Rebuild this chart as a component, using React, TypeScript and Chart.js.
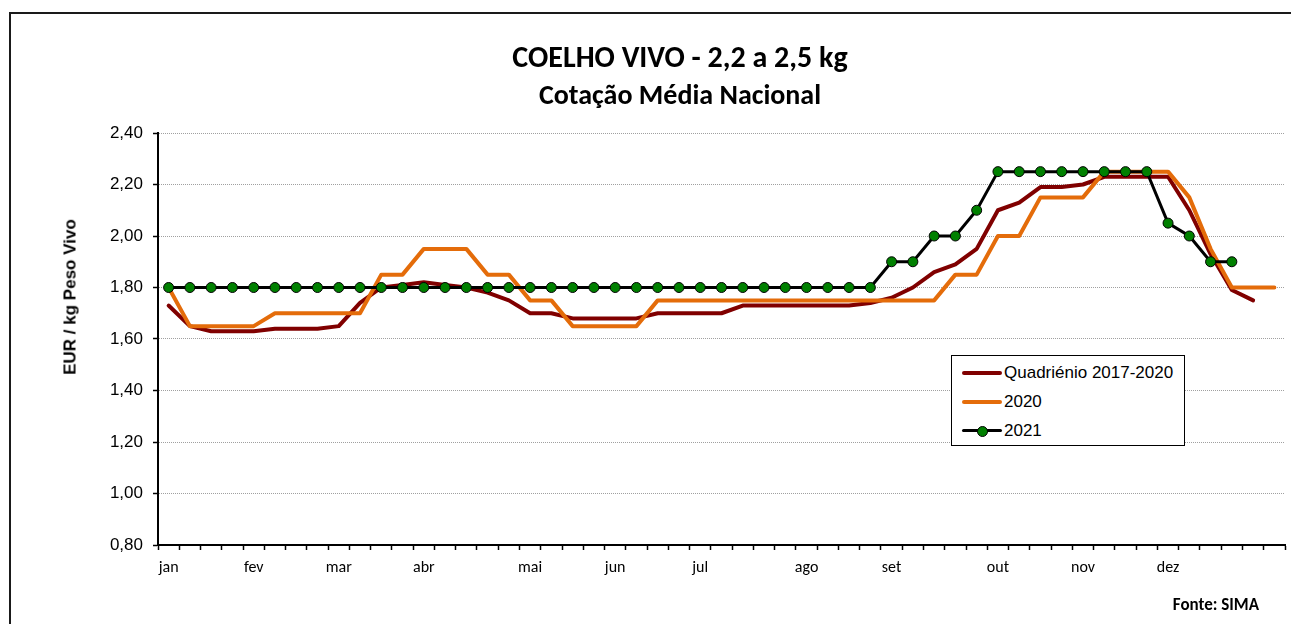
import React, { useEffect, useRef } from "react";
import { Chart, registerables } from "chart.js";

Chart.register(...registerables);

const monthNames = ["jan", "fev", "mar", "abr", "mai", "jun", "jul", "ago", "set", "out", "nov", "dez"];
const monthWeeks = [0, 4, 8, 12, 17, 21, 25, 30, 34, 39, 43, 47];
const weekCount = 53;

const quadrienio = [
  1.73, 1.65, 1.63, 1.63, 1.63, 1.64, 1.64, 1.64, 1.65, 1.74,
  1.80, 1.81, 1.82, 1.81, 1.80, 1.78, 1.75, 1.70, 1.70, 1.68,
  1.68, 1.68, 1.68, 1.70, 1.70, 1.70, 1.70, 1.73, 1.73, 1.73,
  1.73, 1.73, 1.73, 1.74, 1.76, 1.80, 1.86, 1.89, 1.95, 2.10,
  2.13, 2.19, 2.19, 2.20, 2.23, 2.23, 2.23, 2.23, 2.10, 1.93,
  1.79, 1.75, null,
];

const ano2020 = [
  1.80, 1.65, 1.65, 1.65, 1.65, 1.70, 1.70, 1.70, 1.70, 1.70,
  1.85, 1.85, 1.95, 1.95, 1.95, 1.85, 1.85, 1.75, 1.75, 1.65,
  1.65, 1.65, 1.65, 1.75, 1.75, 1.75, 1.75, 1.75, 1.75, 1.75,
  1.75, 1.75, 1.75, 1.75, 1.75, 1.75, 1.75, 1.85, 1.85, 2.00,
  2.00, 2.15, 2.15, 2.15, 2.25, 2.25, 2.25, 2.25, 2.15, 1.95,
  1.80, 1.80, 1.80,
];

const ano2021 = [
  1.80, 1.80, 1.80, 1.80, 1.80, 1.80, 1.80, 1.80, 1.80, 1.80,
  1.80, 1.80, 1.80, 1.80, 1.80, 1.80, 1.80, 1.80, 1.80, 1.80,
  1.80, 1.80, 1.80, 1.80, 1.80, 1.80, 1.80, 1.80, 1.80, 1.80,
  1.80, 1.80, 1.80, 1.80, 1.90, 1.90, 2.00, 2.00, 2.10, 2.25,
  2.25, 2.25, 2.25, 2.25, 2.25, 2.25, 2.25, 2.05, 2.00, 1.90,
  1.90, null, null,
];

const seriesNames = ["Quadriénio 2017-2020", "2020", "2021"];
const seriesColors = ["#800000", "#E46C0A", "#000000"];
const markerColor = "#008000";

const yMin = 0.8;
const yMax = 2.4;
const yStep = 0.2;

const titleText = "COELHO VIVO - 2,2 a 2,5 kg";
const subtitleText = "Cotação Média Nacional";
const yAxisTitle = "EUR / kg Peso Vivo";
const sourceText = "Fonte: SIMA";

const labels: string[] = Array.from({ length: weekCount }, (_, i) => {
  const k = monthWeeks.indexOf(i);
  return k >= 0 ? monthNames[k] : "";
});

const W = 1291;
const H = 624;
const ARIAL = "'Liberation Sans', Arial, sans-serif";
const CAL = "Carlito, Lato, sans-serif";

export default function App() {
  const ref = useRef<HTMLCanvasElement | null>(null);

  useEffect(() => {
    if (!ref.current) return;
    const chart = new Chart(ref.current, {
      type: "line",
      data: {
        labels,
        datasets: [
          {
            label: seriesNames[0],
            data: quadrienio,
            borderColor: seriesColors[0],
            backgroundColor: seriesColors[0],
            borderWidth: 4,
            pointRadius: 0,
            tension: 0,
            borderJoinStyle: "round",
            borderCapStyle: "round",
            order: 3,
          },
          {
            label: seriesNames[1],
            data: ano2020,
            borderColor: seriesColors[1],
            backgroundColor: seriesColors[1],
            borderWidth: 4,
            pointRadius: 0,
            tension: 0,
            borderJoinStyle: "round",
            borderCapStyle: "round",
            order: 2,
          },
          {
            label: seriesNames[2],
            data: ano2021,
            borderColor: seriesColors[2],
            backgroundColor: markerColor,
            borderWidth: 3,
            pointRadius: 5,
            pointBackgroundColor: markerColor,
            pointBorderColor: "#000000",
            pointBorderWidth: 1,
            tension: 0,
            order: 1,
          },
        ],
      },
      options: {
        responsive: false,
        animation: false,
        events: [],
        layout: { padding: { top: 133, right: 6, bottom: 0, left: 0 } },
        plugins: {
          legend: { display: false },
          title: { display: false },
          tooltip: { enabled: false },
        },
        scales: {
          x: {
            type: "category",
            offset: true,
            afterFit: (s: any) => {
              s.height = 79;
            },
            grid: {
              offset: true,
              drawOnChartArea: false,
              drawTicks: true,
              tickLength: 5,
              tickColor: "#000000",
              tickWidth: 1.5,
              tickBorderDash: [],
            },
            border: { display: true, color: "#000000", width: 2 },
            ticks: {
              autoSkip: false,
              maxRotation: 0,
              minRotation: 0,
              padding: 8,
              color: "#000000",
              font: { family: CAL, size: 16 },
            },
          },
          y: {
            min: yMin,
            max: yMax,
            afterFit: (s: any) => {
              s.width = 158;
            },
            grid: {
              color: "#a0a0a0",
              lineWidth: 1,
              drawTicks: true,
              tickLength: 5,
              tickColor: "#000000",
              tickWidth: 1.5,
              tickBorderDash: [],
            },
            border: { display: true, color: "#000000", width: 2, dash: [1, 1] },
            ticks: {
              stepSize: yStep,
              padding: 10,
              color: "#000000",
              font: { family: ARIAL, size: 17 },
              callback: (v: any) => Number(v).toFixed(2).replace(".", ","),
            },
          },
        },
      },
    } as any);
    return () => chart.destroy();
  }, []);

  const legendRows = [0, 1, 2];

  return (
    <div style={{ position: "fixed", left: 0, top: 0, width: W, height: H, overflow: "hidden", background: "#fff" }}>
      <div
        style={{
          position: "absolute",
          left: 9,
          top: 12,
          width: 1400,
          height: 800,
          border: "2px solid #1a1a1a",
          boxSizing: "border-box",
        }}
      />
      <canvas ref={ref} width={W} height={H} style={{ position: "absolute", left: 0, top: 0, width: W, height: H }} />
      <div
        style={{
          position: "absolute",
          left: 680,
          top: 57,
          transform: "translate(-50%, -50%)",
          whiteSpace: "nowrap",
          font: `bold 30px ${CAL}`,
          lineHeight: "1",
          color: "#000",
        }}
      >
        {titleText}
      </div>
      <div
        style={{
          position: "absolute",
          left: 680,
          top: 95,
          transform: "translate(-50%, -50%)",
          whiteSpace: "nowrap",
          font: `bold 28px ${CAL}`,
          lineHeight: "1",
          color: "#000",
        }}
      >
        {subtitleText}
      </div>
      <div
        style={{
          position: "absolute",
          left: 70,
          top: 297,
          transform: "translate(-50%, -50%) rotate(-90deg)",
          whiteSpace: "nowrap",
          font: `bold 17px ${ARIAL}`,
          lineHeight: "1",
          color: "#000",
        }}
      >
        {yAxisTitle}
      </div>
      <div
        style={{
          position: "absolute",
          left: 951,
          top: 355,
          width: 234,
          height: 91,
          border: "1px solid #000",
          background: "#fff",
          boxSizing: "border-box",
        }}
      >
        {legendRows.map((i) => (
          <div key={i} style={{ position: "absolute", left: 0, top: 17 + i * 29, width: 232, height: 0 }}>
            <div
              style={{
                position: "absolute",
                left: 10,
                top: -2,
                width: 40,
                height: i === 2 ? 3 : 4,
                borderRadius: 2,
                background: seriesColors[i],
              }}
            />
            {i === 2 && (
              <div
                style={{
                  position: "absolute",
                  left: 25,
                  top: -5,
                  width: 9,
                  height: 9,
                  borderRadius: "50%",
                  background: markerColor,
                  border: "1px solid #000",
                }}
              />
            )}
            <div
              style={{
                position: "absolute",
                left: 52,
                top: -10,
                whiteSpace: "nowrap",
                font: `17px ${ARIAL}`,
                lineHeight: "20px",
                color: "#000",
              }}
            >
              {seriesNames[i]}
            </div>
          </div>
        ))}
      </div>
      <div
        style={{
          position: "absolute",
          left: 1259,
          top: 604,
          transform: "translate(-100%, -50%)",
          whiteSpace: "nowrap",
          font: `bold 17px ${CAL}`,
          lineHeight: "1",
          color: "#000",
        }}
      >
        {sourceText}
      </div>
    </div>
  );
}
